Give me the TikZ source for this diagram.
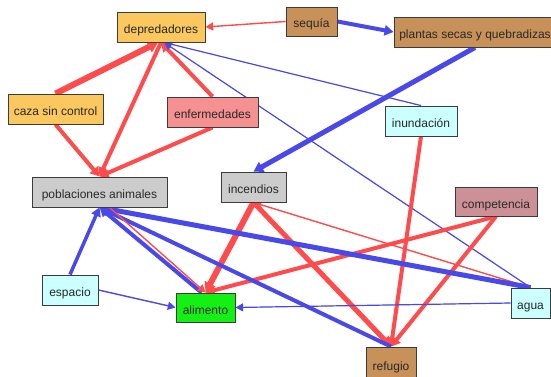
\documentclass[tikz,border=0pt]{standalone}
\usepackage{fontspec}
\setmainfont{Liberation Sans}
\usetikzlibrary{arrows.meta,calc}
\pgfdeclarelayer{bg}
\pgfsetlayers{bg,main}
\definecolor{cOrange}{RGB}{250,200,95}
\definecolor{cBrown}{RGB}{200,145,90}
\definecolor{cPink}{RGB}{245,145,145}
\definecolor{cCyan}{RGB}{204,255,255}
\definecolor{cGray}{RGB}{204,204,204}
\definecolor{cRose}{RGB}{204,145,150}
\definecolor{cGreen}{RGB}{20,240,20}
\definecolor{cRed}{RGB}{255,75,75}
\definecolor{cBlue}{RGB}{72,72,235}
\definecolor{cBorder}{RGB}{60,60,60}
\definecolor{cText}{RGB}{40,40,40}
\begin{document}
\begin{tikzpicture}[x=1pt,y=-1pt,
  box/.style={draw=cBorder, line width=0.9pt, inner sep=0pt,
    font=\fontsize{12}{14}\selectfont, text=cText, text height=13pt, text depth=0pt},
  rl/.style={draw=cRed, line width=#1, -{Triangle[length=7pt 0.5,width=7pt 0.8]}, fill=cRed},
  bl/.style={draw=cBlue, line width=#1, -{Triangle[length=7pt 0.5,width=7pt 0.8]}, fill=cBlue},
]
\useasboundingbox (0,0) rectangle (551,377);

\node[box, fill=cOrange, minimum width=88pt, minimum height=30pt] (dep) at (161,27) {depredadores};
\node[box, fill=cBrown, minimum width=51pt, minimum height=29pt] (seq) at (311.5,21.5) {sequía};
\node[box, fill=cBrown, minimum width=162pt, minimum height=30pt] (pla) at (475,32) {plantas secas y quebradizas};
\node[box, fill=cOrange, minimum width=95pt, minimum height=30pt] (caza) at (55.5,109) {caza sin control};
\node[box, fill=cPink, minimum width=91pt, minimum height=30pt] (enf) at (212.5,112) {enfermedades};
\node[box, fill=cCyan, minimum width=72pt, minimum height=30pt] (inu) at (421,121) {inundación};
\node[box, fill=cGray, minimum width=135pt, minimum height=30pt] (pob) at (99.5,192) {poblaciones animales};
\node[box, fill=cGray, minimum width=65pt, minimum height=30pt] (inc) at (253.5,187) {incendios};
\node[box, fill=cRose, minimum width=82pt, minimum height=29pt] (com) at (496,201.5) {competencia};
\node[box, fill=cCyan, minimum width=56pt, minimum height=30pt] (esp) at (70,290) {espacio};
\node[box, fill=cGreen, minimum width=59pt, minimum height=29pt] (ali) at (205.5,307.5) {alimento};
\node[box, fill=cCyan, minimum width=39pt, minimum height=30pt] (agua) at (530.5,303) {agua};
\node[box, fill=cBrown, minimum width=50pt, minimum height=34pt] (ref) at (391,364) {refugio};

\begin{pgfonlayer}{bg}
\fill[white] (0,0) rectangle (551,377);
\draw[rl=1.4pt] (seq.west) -- (dep.east);
\draw[bl=4pt] (seq.east) -- (pla.west);
\draw[rl=6pt] (caza.north) -- ($(dep.south)+(-3,0)$);
\draw[rl=4pt] (caza.south) -- (pob.north);
\draw[rl=4pt] (dep.south) -- (pob.north);
\draw[rl=4pt] (enf.north) -- (dep.south);
\draw[rl=4pt] (enf.south) -- (pob.north);
\draw[bl=1.2pt] (inu.north) -- ($(dep.south)+(3,0)$);
\draw[bl=1.2pt] (agua.north) -- ($(dep.south)+(3,0)$);
\draw[bl=5pt] (pla.south) -- (inc.north);
\draw[rl=4pt] (inu.south) -- (ref.north);
\draw[rl=6pt] (inc.south) -- (ali.north);
\draw[rl=5pt] (inc.south) -- (ref.north);
\draw[rl=1.4pt] (agua.north) -- (inc.south);
\draw[rl=4pt] (com.south) -- (ali.north);
\draw[rl=4pt] (com.south) -- (ref.north);
\draw[bl=5pt] (agua.north) -- (pob.south);
\draw[bl=1.2pt] (agua.west) -- (ali.east);
\draw[bl=4pt] (ref.north) -- (pob.south);
\draw[bl=4pt] ($(ali.north)+(-4,0)$) -- (pob.south);
\draw[bl=3.5pt] (esp.north) -- (pob.south);
\draw[bl=1.4pt] (esp.east) -- (ali.west);
\draw[rl=1.4pt] ($(pob.south)+(10,0)$) -- (ali.north);
\end{pgfonlayer}
\end{tikzpicture}
\end{document}
